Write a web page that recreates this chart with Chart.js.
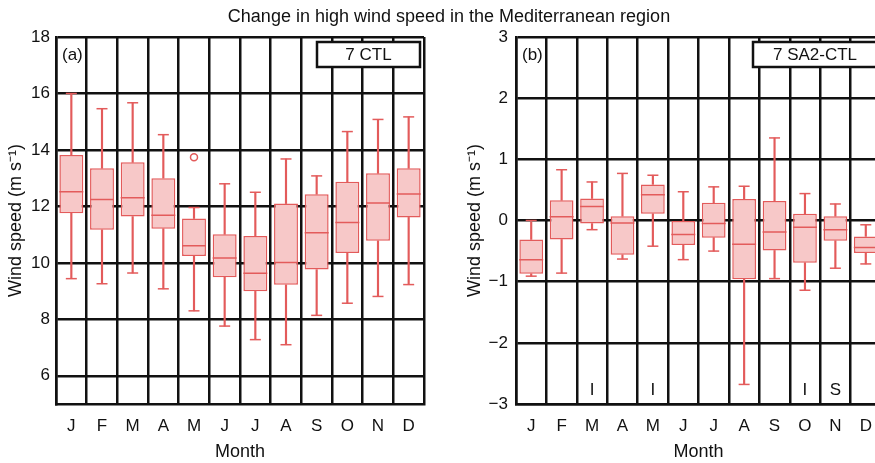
<!DOCTYPE html>
<html>
<head>
<meta charset="utf-8">
<script src="https://cdn.jsdelivr.net/npm/chart.js@4.4.1/dist/chart.umd.min.js"></script>
<style>
html, body { margin: 0; padding: 0; background: #fff; overflow: hidden; width: 875px; height: 463px; }
#title { position: absolute; left: 0; top: 6px; width: 898px; text-align: center; font: 18px "Liberation Sans", Arial, sans-serif; color: #111; z-index: 2; }
.panel { position: absolute; top: 0; height: 463px; }
</style>
</head>
<body>
<div id="title">Change in high wind speed in the Mediterranean region</div>
<div class="panel" style="left:0;width:440px"><canvas id="chartA"></canvas></div>
<div class="panel" style="left:440px;width:445px"><canvas id="chartB"></canvas></div>
<script>
var months = ["J", "F", "M", "A", "M", "J", "J", "A", "S", "O", "N", "D"];

// (a) 7 CTL
var ctlMin = [9.44, 9.26, 9.64, 9.08, 8.30, 7.76, 7.28, 7.10, 8.14, 8.57, 8.81, 9.23];
var ctlQ1  = [11.76, 11.17, 11.64, 11.21, 10.24, 9.49, 8.99, 9.22, 9.76, 10.35, 10.78, 11.61];
var ctlMed = [12.52, 12.24, 12.31, 11.69, 10.61, 10.17, 9.63, 10.01, 11.07, 11.43, 12.12, 12.44];
var ctlQ3  = [13.82, 13.35, 13.56, 13.00, 11.57, 11.01, 10.95, 12.10, 12.43, 12.87, 13.17, 13.35];
var ctlMax = [16.00, 15.46, 15.67, 14.54, 11.96, 12.80, 12.50, 13.68, 13.08, 14.65, 15.08, 15.17];
var ctlOut = [null, null, null, null, 13.74, null, null, null, null, null, null, null];
var yTicksA = [6, 8, 10, 12, 14, 16, 18];

// (b) 7 SA2-CTL
var diffMin = [-0.91, -0.86, -0.15, -0.63, -0.42, -0.64, -0.50, -2.68, -0.95, -1.14, -0.78, -0.71];
var diffQ1  = [-0.87, -0.31, -0.05, -0.56, 0.11, -0.40, -0.28, -0.96, -0.49, -0.69, -0.33, -0.53];
var diffMed = [-0.64, 0.06, 0.23, -0.04, 0.42, -0.23, -0.05, -0.39, -0.19, -0.11, -0.15, -0.44];
var diffQ3  = [-0.31, 0.33, 0.36, 0.07, 0.59, -0.01, 0.29, 0.35, 0.32, 0.11, 0.07, -0.26];
var diffMax = [0.00, 0.83, 0.63, 0.77, 0.74, 0.47, 0.55, 0.56, 1.35, 0.44, 0.27, -0.07];
var diffOut = [null, null, null, null, null, null, null, null, null, null, null, null];
var sigMarks = ["", "", "I", "", "I", "", "", "", "", "I", "S", ""];
var sigLevel = -2.77;
var yTicksB = [-3, -2, -1, 0, 1, 2, 3];

var FONT = '"Liberation Sans", Arial, sans-serif';
var RED = "#e35b5b";
var INK = "#111";

Chart.defaults.font.family = FONT;
Chart.defaults.color = INK;

var panelDeco = {
	id: "panelDeco",
	afterDatasetsDraw: function(chart, args, opts) {
		var ctx = chart.ctx, a = chart.chartArea;
		ctx.save();
		ctx.font = "17px " + FONT;
		ctx.fillStyle = INK;
		ctx.textBaseline = "middle";
		ctx.textAlign = "left";
		ctx.fillText(opts.tag, a.left + 6, a.top + 18);
		var bx = a.right - 4 - opts.boxW;
		ctx.fillStyle = "#fff";
		ctx.fillRect(bx, a.top + 5, opts.boxW, 25);
		ctx.lineWidth = 2.5;
		ctx.strokeStyle = INK;
		ctx.strokeRect(bx, a.top + 5, opts.boxW, 25);
		ctx.fillStyle = INK;
		ctx.textAlign = "center";
		ctx.fillText(opts.legend, bx + opts.boxW / 2, a.top + 18);
		if (opts.marks) {
			var x = chart.scales.x, y = chart.scales.y;
			opts.marks.forEach(function(m, i) {
				if (m) ctx.fillText(m, x.getPixelForValue(i), y.getPixelForValue(sigLevel));
			});
		}
		ctx.restore();
	}
};

function boxChart(id, lo, q1, med, q3, hi, out, yMin, yMax, yTicks, axisW, tickPad, titlePad, padRight, deco) {
	return new Chart(document.getElementById(id).getContext("2d"), {
		type: "bar",
		data: {
			labels: months,
			datasets: [{
				type: "line",
				data: med,
				showLine: false,
				pointStyle: "line",
				pointRadius: 12,
				pointBorderWidth: 1.5,
				pointBorderColor: RED
			}, {
				type: "line",
				data: hi,
				showLine: false,
				pointStyle: "line",
				pointRadius: 5.5,
				pointBorderWidth: 1.5,
				pointBorderColor: RED
			}, {
				type: "line",
				data: lo,
				showLine: false,
				pointStyle: "line",
				pointRadius: 5.5,
				pointBorderWidth: 1.5,
				pointBorderColor: RED
			}, {
				type: "line",
				data: out,
				showLine: false,
				pointStyle: "circle",
				pointRadius: 3.5,
				pointBorderWidth: 1.5,
				pointBorderColor: RED,
				pointBackgroundColor: "#fff"
			}, {
				data: q1.map(function(v, i) { return [v, q3[i]]; }),
				backgroundColor: "#f7c8c8",
				borderColor: RED,
				borderWidth: 1.5,
				borderSkipped: false,
				grouped: false,
				categoryPercentage: 1,
				barPercentage: 0.78
			}, {
				data: q3.map(function(v, i) { return [v, hi[i]]; }),
				backgroundColor: RED,
				grouped: false,
				barThickness: 1.5
			}, {
				data: lo.map(function(v, i) { return [v, q1[i]]; }),
				backgroundColor: RED,
				grouped: false,
				barThickness: 1.5
			}]
		},
		options: {
			responsive: true,
			maintainAspectRatio: false,
			animation: false,
			layout: { autoPadding: false, padding: { top: 37, right: padRight, left: 0, bottom: 0 } },
			plugins: {
				legend: { display: false },
				tooltip: { enabled: false },
				panelDeco: deco
			},
			scales: {
				x: {
					grid: { color: INK, lineWidth: 2.5, drawTicks: false, offset: true },
					border: { color: INK, width: 2.5 },
					ticks: { font: { size: 17 }, padding: 12, color: INK },
					title: { display: true, text: "Month", font: { size: 18 }, color: INK, padding: { top: 0, bottom: 0 } },
					afterFit: function(s) { s.height = 59; }
				},
				y: {
					min: yMin,
					max: yMax,
					grid: { color: INK, lineWidth: 2.5, drawTicks: false },
					border: { color: INK, width: 2.5 },
					afterBuildTicks: function(s) { s.ticks = yTicks.map(function(v) { return { value: v }; }); },
					ticks: {
						font: { size: 17 },
						padding: tickPad,
						color: INK,
						callback: function(v) { return v < 0 ? "\u2212" + Math.abs(v) : String(v); }
					},
					title: { display: true, text: "Wind speed (m s\u207B\u00B9)", font: { size: 18 }, color: INK, padding: { top: titlePad, bottom: 0 } },
					afterFit: function(s) { s.width = axisW; }
				}
			}
		},
		plugins: [panelDeco]
	});
}

boxChart("chartA", ctlMin, ctlQ1, ctlMed, ctlQ3, ctlMax, ctlOut, 5, 18, yTicksA, 56, 6, 5, 16,
	{ tag: "(a)", legend: "7 CTL", boxW: 103 });
boxChart("chartB", diffMin, diffQ1, diffMed, diffQ3, diffMax, diffOut, -3, 3, yTicksB, 76, 8, 24, 4,
	{ tag: "(b)", legend: "7 SA2-CTL", boxW: 124, marks: sigMarks });
</script>
</body>
</html>
